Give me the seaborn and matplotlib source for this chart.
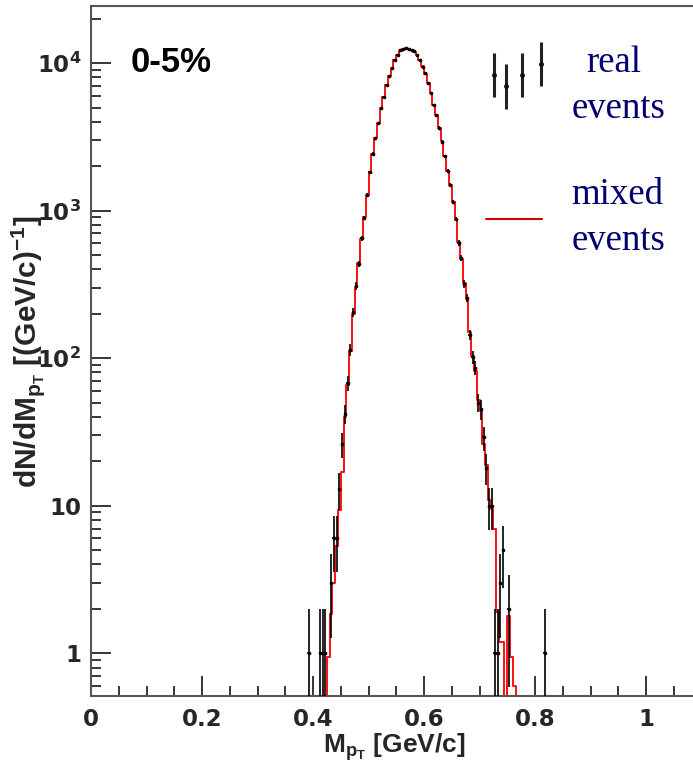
import numpy as np
import pandas as pd
import matplotlib
matplotlib.use("Agg")
import matplotlib.pyplot as plt
import seaborn as sns
from matplotlib.ticker import FixedLocator, MultipleLocator, LogLocator, NullFormatter

# ---------------- data ----------------
bin_width = 0.005

real_x = [0.3925, 0.4125, 0.4175, 0.4225, 0.4325, 0.4375, 0.4425, 0.4475, 0.4525,
          0.4575, 0.4625, 0.4675, 0.4725, 0.4775, 0.4825, 0.4875, 0.4925, 0.4975,
          0.5025, 0.5075, 0.5125, 0.5175, 0.5225, 0.5275, 0.5325, 0.5375, 0.5425,
          0.5475, 0.5525, 0.5575, 0.5625, 0.5675, 0.5725, 0.5775, 0.5825, 0.5875,
          0.5925, 0.5975, 0.6025, 0.6075, 0.6125, 0.6175, 0.6225, 0.6275, 0.6325,
          0.6375, 0.6425, 0.6475, 0.6525, 0.6575, 0.6625, 0.6675, 0.6725, 0.6775,
          0.6825, 0.6875, 0.6925, 0.6975, 0.7025, 0.7075, 0.7125, 0.7175, 0.7225,
          0.7275, 0.7325, 0.7375, 0.7425, 0.7525, 0.8175]
real_counts = [1, 1, 1, 1, 3, 6, 6, 13, 26,
               42, 68, 114, 204, 309, 434, 651, 890, 1280,
               1820, 2430, 3090, 3920, 5000, 5850, 7130, 8200, 9250,
               10500, 11400, 12200, 12560, 12650, 12500, 12300, 12000, 11400,
               10500, 9480, 8550, 7310, 6260, 5210, 4460, 3660, 2940,
               2330, 1870, 1500, 1140, 875, 603, 476, 319, 255,
               144, 102, 86, 50, 45, 29, 18, 10, 10,
               1, 1, 3, 5, 2, 1]

mixed_x = [0.4225, 0.4275, 0.4325, 0.4375, 0.4425, 0.4475, 0.4525, 0.4575, 0.4625,
           0.4675, 0.4725, 0.4775, 0.4825, 0.4875, 0.4925, 0.4975, 0.5025, 0.5075,
           0.5125, 0.5175, 0.5225, 0.5275, 0.5325, 0.5375, 0.5425, 0.5475, 0.5525,
           0.5575, 0.5625, 0.5675, 0.5725, 0.5775, 0.5825, 0.5875, 0.5925, 0.5975,
           0.6025, 0.6075, 0.6125, 0.6175, 0.6225, 0.6275, 0.6325, 0.6375, 0.6425,
           0.6475, 0.6525, 0.6575, 0.6625, 0.6675, 0.6725, 0.6775, 0.6825, 0.6875,
           0.6925, 0.6975, 0.7025, 0.7075, 0.7125, 0.7175, 0.7225, 0.7275, 0.7325,
           0.7375, 0.7425, 0.7475, 0.7525, 0.7575, 0.7625, 0.7675]
mixed_values = [0.3, 0.95, 1.85, 3.0, 5.3, 9.4, 17.0, 40.0, 66.0,
                112.0, 200.0, 305.0, 440.0, 645.0, 900.0, 1270.0, 1800.0, 2420.0,
                3100.0, 3900.0, 4950.0, 5900.0, 7100.0, 8200.0, 9300.0, 10450.0, 11400.0,
                12150.0, 12550.0, 12620.0, 12480.0, 12280.0, 11950.0, 11380.0, 10500.0, 9500.0,
                8500.0, 7350.0, 6250.0, 5230.0, 4420.0, 3650.0, 2950.0, 2340.0, 1860.0,
                1490.0, 1150.0, 870.0, 610.0, 470.0, 325.0, 250.0, 150.0, 104.0,
                82.0, 52.0, 44.0, 26.0, 19.0, 11.0, 9.5, 6.9, 1.9,
                1.2, 1.2, 0.45, 1.8, 0.95, 0.6, 0.3]

x_tick_values = [0.0, 0.2, 0.4, 0.6, 0.8, 1.0]
x_tick_labels = ["0", "0.2", "0.4", "0.6", "0.8", "1"]
y_tick_values = [1, 10, 100, 1000, 10000]
y_tick_labels = ["1", "10", r"$\mathbf{10}^{\mathbf{2}}$",
                 r"$\mathbf{10}^{\mathbf{3}}$", r"$\mathbf{10}^{\mathbf{4}}$"]

centrality_label = "0-5%"
legend_real = ["real", "events"]
legend_mixed = ["mixed", "events"]

# ---------------- style ----------------
sns.set_theme(style="ticks")
plt.rcParams.update({
    "font.family": ["Liberation Sans", "DejaVu Sans"],
    "font.weight": "bold",
    "mathtext.fontset": "custom",
    "mathtext.rm": "Liberation Sans:bold",
    "mathtext.it": "Liberation Sans:bold",
    "mathtext.sf": "Liberation Sans:bold",
    "mathtext.bf": "DejaVu Sans:bold",
})

W, H = 693, 770
fig = plt.figure(figsize=(W / 100, H / 100), dpi=100)
fig.patch.set_facecolor("white")
ax = fig.add_axes([91 / W, 74 / H, 610.5 / W, 690.3 / H])
ax.set_facecolor("white")
ax.set_yscale("log")

# mixed events: step histogram (edges + heights, drawn as post-steps)
mixed_arr = np.array(mixed_values, dtype=float)
edges = np.round(np.append(np.array(mixed_x) - bin_width / 2, mixed_x[-1] + bin_width / 2), 5)
step_df = pd.DataFrame({"edge": edges, "height": np.append(mixed_arr, mixed_arr[-1])})
sns.lineplot(data=step_df, x="edge", y="height", drawstyle="steps-post",
             estimator=None, sort=False, color="#ff1010", linewidth=1.4,
             ax=ax, zorder=2)

# real events: points with Poisson errors
real_df = pd.DataFrame({"x": real_x, "n": real_counts})
err = np.sqrt(real_df["n"].to_numpy(dtype=float))
ax.errorbar(real_df["x"], real_df["n"], xerr=bin_width / 2, yerr=err, fmt="none",
            ecolor="black", elinewidth=1.2, capsize=0, zorder=3)
sns.scatterplot(data=real_df, x="x", y="n", color="black", s=7, linewidth=0,
                ax=ax, zorder=4)

# axes ranges and ticks
ax.set_xlim(0, 1.1)
ax.set_ylim(0.513, 2.45e4)
ax.xaxis.set_major_locator(FixedLocator(x_tick_values))
ax.set_xticklabels(x_tick_labels)
ax.xaxis.set_minor_locator(MultipleLocator(0.05))
ax.yaxis.set_major_locator(FixedLocator(y_tick_values))
ax.set_yticklabels(y_tick_labels)
ax.yaxis.set_minor_locator(LogLocator(base=10, subs=np.arange(2, 10)))
ax.yaxis.set_minor_formatter(NullFormatter())
ax.tick_params(which="both", direction="in", top=False, right=False,
               color="black", width=1.1)
ax.tick_params(which="major", length=14.4, labelsize=16.5,
               labelfontfamily="DejaVu Sans")
ax.tick_params(axis="x", which="major", pad=9)
ax.tick_params(axis="y", which="major", pad=7)
ax.tick_params(which="minor", length=7.2)
for lab in ax.get_xticklabels() + ax.get_yticklabels():
    lab.set_fontweight("bold")
for s in ax.spines.values():
    s.set_color("#555555")
    s.set_linewidth(1.5)

ax.set_xlabel(r"M$_{p_{T}}$ [GeV/c]", fontsize=19, fontweight="bold")
ax.xaxis.label.set_va("baseline")
ax.xaxis.set_label_coords(0.497, -0.0826)
ax.set_ylabel(r"dN/dM$_{p_{T}}$ [(GeV/c)$^{-1}$]", fontsize=21.5, fontweight="bold")
ax.yaxis.label.set_va("baseline")
ax.yaxis.set_label_coords(-0.0905, 0.499)

# centrality label
ax.text(0.0655, 0.904, centrality_label, transform=ax.transAxes, fontsize=25,
        fontweight="bold", ha="left", va="baseline", color="black")

# legend (hand-placed like the original)
navy = "#00006e"
serif = ["Liberation Serif", "DejaVu Serif"]
ax.text(0.812, 0.9035, legend_real[0], transform=ax.transAxes, fontsize=26.5,
        family=serif, fontweight="normal", color=navy, ha="left", va="baseline")
ax.text(0.787, 0.837, legend_real[1], transform=ax.transAxes, fontsize=26.5,
        family=serif, fontweight="normal", color=navy, ha="left", va="baseline")
ax.text(0.787, 0.7127, legend_mixed[0], transform=ax.transAxes, fontsize=26.5,
        family=serif, fontweight="normal", color=navy, ha="left", va="baseline")
ax.text(0.787, 0.6465, legend_mixed[1], transform=ax.transAxes, fontsize=26.5,
        family=serif, fontweight="normal", color=navy, ha="left", va="baseline")

glyph_x = [0.660, 0.679, 0.7055, 0.737]
glyph_y = [0.8996, 0.883, 0.8996, 0.9155]
for gx, gy in zip(glyph_x, glyph_y):
    ax.plot([gx, gx], [gy - 0.032, gy + 0.032], transform=ax.transAxes,
            color="#222222", lw=2.2, solid_capstyle="butt", clip_on=False)
    ax.plot([gx], [gy], transform=ax.transAxes, marker="o", ms=2.5,
            color="#111111", clip_on=False)
ax.plot([0.647, 0.7387], [0.691, 0.691], transform=ax.transAxes,
        color="#cc0000", lw=1.5, clip_on=False)

fig.savefig("out.png", dpi=100)
